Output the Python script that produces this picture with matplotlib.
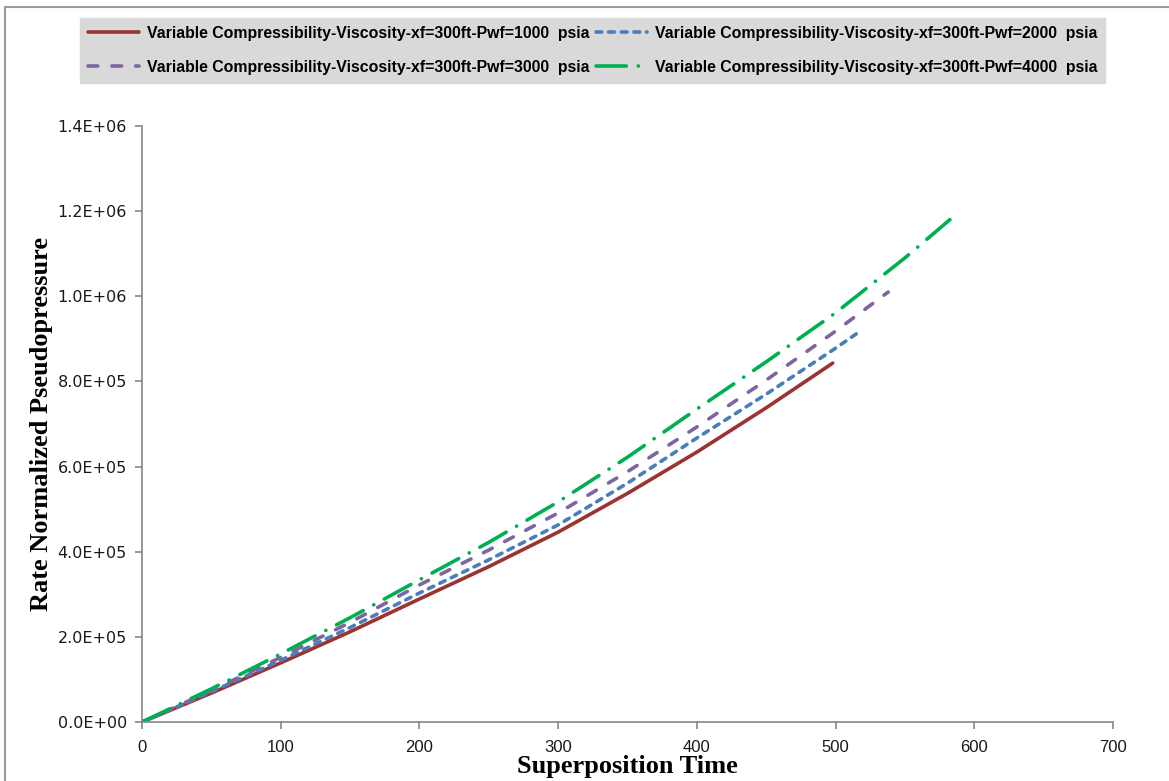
import matplotlib
matplotlib.use("Agg")
import matplotlib.pyplot as plt
from matplotlib.ticker import FormatStrFormatter, MultipleLocator
from matplotlib.patches import Rectangle

# values
labels = [
    "Variable Compressibility-Viscosity-xf=300ft-Pwf=1000  psia",
    "Variable Compressibility-Viscosity-xf=300ft-Pwf=2000  psia",
    "Variable Compressibility-Viscosity-xf=300ft-Pwf=3000  psia",
    "Variable Compressibility-Viscosity-xf=300ft-Pwf=4000  psia",
]
t_1000 = [0, 50, 100, 150, 200, 250, 300, 350, 400, 450, 498]
p_1000 = [0, 68e3, 139e3, 212e3, 289e3, 365e3, 446e3, 537e3, 634e3, 738e3, 843e3]
t_2000 = [0, 50, 100, 150, 200, 250, 300, 350, 400, 450, 500, 516]
p_2000 = [0, 71e3, 145e3, 222e3, 303e3, 381e3, 463e3, 561e3, 667e3, 770e3, 878e3, 914e3]
t_3000 = [0, 50, 100, 150, 200, 250, 300, 350, 400, 450, 500, 538]
p_3000 = [0, 74e3, 152e3, 234e3, 322e3, 404e3, 491e3, 588e3, 693e3, 803e3, 918e3, 1010e3]
t_4000 = [0, 50, 100, 150, 200, 250, 300, 350, 400, 450, 500, 550, 585]
p_4000 = [0, 78e3, 160e3, 245e3, 334e3, 422e3, 517e3, 622e3, 735e3, 846e3, 961e3, 1090e3, 1187e3]

colors = ["#9b3330", "#4a7ebb", "#8064a2", "#00b050"]
styles = ["-", (0, (1.6, 1.9)), (0, (2.7, 3.9)), (0, (8.4, 3.3, 0.05, 3.3))]

fig = plt.figure(figsize=(11.69, 7.81), dpi=100)
ax = fig.add_axes([0.1215, 0.0755, 0.8305, 0.7632])

series = [(t_1000, p_1000), (t_2000, p_2000), (t_3000, p_3000), (t_4000, p_4000)]
lines = []
for (t, p), c, ls, lab in zip(series, colors, styles, labels):
    ln, = ax.plot(t, p, color=c, lw=2.6, linestyle=ls, label=lab,
                  solid_capstyle="round", dash_capstyle="round")
    lines.append(ln)

ax.set_xlim(0, 700)
ax.set_ylim(0, 1.4e6)
ax.xaxis.set_major_locator(MultipleLocator(100))
ax.yaxis.set_major_locator(MultipleLocator(2e5))
ax.yaxis.set_major_formatter(FormatStrFormatter("%.1E"))

for s in ["top", "right"]:
    ax.spines[s].set_visible(False)
for s in ["left", "bottom"]:
    ax.spines[s].set_color("#868686")
    ax.spines[s].set_linewidth(1.2)
ax.tick_params(axis="both", direction="out", length=5, width=1.2, color="#868686",
               labelcolor="#1a1a1a")
ax.tick_params(axis="y", pad=6)
ax.tick_params(axis="x", pad=8)
for lbl in ax.get_yticklabels():
    lbl.set_fontfamily(["DejaVu Sans"])
    lbl.set_fontsize(11.5)
for lbl in ax.get_xticklabels():
    lbl.set_fontfamily(["Liberation Sans", "DejaVu Sans"])
    lbl.set_fontsize(12)

ax.set_xlabel("Superposition Time", fontfamily=["Liberation Serif"], fontweight="bold",
              fontsize=19, labelpad=0)
ax.set_ylabel("Rate Normalized Pseudopressure", fontfamily=["Liberation Serif"],
              fontweight="bold", fontsize=19, labelpad=3)

# row-wise legend order: 1000, 2000 / 3000, 4000
order = [0, 2, 1, 3]
leg = fig.legend([lines[i] for i in order], [labels[i] for i in order],
                 loc="upper center", bbox_to_anchor=(0.507, 0.987), ncol=2,
                 prop={"family": ["Liberation Sans", "DejaVu Sans"],
                       "weight": "bold", "size": 11.4},
                 frameon=True, fancybox=False, facecolor="#d9d9d9", edgecolor="#d9d9d9",
                 framealpha=1, handlelength=3.2, handletextpad=0.5, columnspacing=0.45,
                 labelspacing=1.2, borderpad=0.5)

# chart area border
fig.patches.append(Rectangle((5 / 1169, -0.1), 1.2, 1.1 - 7 / 781, transform=fig.transFigure,
                             fill=False, edgecolor="#9a9a9a", lw=1.5))

fig.savefig("out.png", dpi=100)
